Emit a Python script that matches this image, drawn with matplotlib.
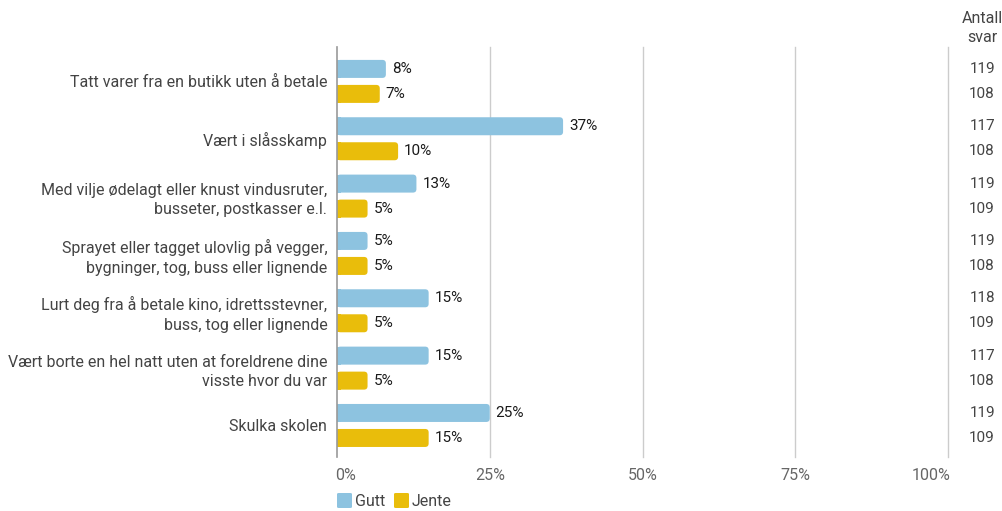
import matplotlib.pyplot as plt
from matplotlib.patches import FancyBboxPatch, Rectangle
from matplotlib.transforms import ScaledTranslation

plt.rcParams['font.family'] = ['Roboto', 'DejaVu Sans']

categories = [
    "Tatt varer fra en butikk uten å betale",
    "Vært i slåsskamp",
    "Med vilje ødelagt eller knust vindusruter,\nbusseter, postkasser e.l.",
    "Sprayet eller tagget ulovlig på vegger,\nbygninger, tog, buss eller lignende",
    "Lurt deg fra å betale kino, idrettsstevner,\nbuss, tog eller lignende",
    "Vært borte en hel natt uten at foreldrene dine\nvisste hvor du var",
    "Skulka skolen",
]
gutt = [8, 37, 13, 5, 15, 15, 25]
jente = [7, 10, 5, 5, 5, 5, 15]
n_gutt = [119, 117, 119, 119, 118, 117, 119]
n_jente = [108, 108, 109, 108, 109, 108, 109]
series_names = ["Gutt", "Jente"]
xticks = [0, 25, 50, 75, 100]

BLUE = "#8DC3E0"
YELLOW = "#E9BD0B"

W, H = 1003, 511
fig = plt.figure(figsize=(W / 100, H / 100), dpi=100)
ax_l, ax_r, ax_t, ax_b = 337, 948, 47, 457
ax = fig.add_axes([ax_l / W, 1 - ax_b / H, (ax_r - ax_l) / W, (ax_b - ax_t) / H])
ax.set_xlim(0, 100)
ax.set_ylim(6.55, -0.6)

px_x = (ax_r - ax_l) / 100.0
px_y = (ax_b - ax_t) / (6.55 + 0.6)
bar_h = 18 / px_y
off = 12.5 / px_y
rad_x = 3.5 / px_x
aspect = (3.5 / px_y) / rad_x

for i in range(len(categories)):
    for val, dy, col in ((gutt[i], -off, BLUE), (jente[i], off, YELLOW)):
        y0 = i + dy - bar_h / 2
        p = FancyBboxPatch((0, y0), val, bar_h,
                           boxstyle=f"round,pad=0,rounding_size={rad_x}",
                           mutation_aspect=aspect, fc=col, ec="none", zorder=3)
        ax.add_patch(p)
        ax.add_patch(Rectangle((0, y0), min(val, rad_x), bar_h, fc=col, ec="none", zorder=3))
        ax.text(val + 6 / px_x, i + dy, f"{val}%", va="center", ha="left",
                fontsize=11, color="#1a1a1a", zorder=4)

# gridlines
for xt in xticks[1:]:
    ax.axvline(xt, color="#CCCCCC", lw=1, zorder=1, clip_on=False)
ax.axvline(0, color="#999999", lw=1.2, zorder=5, clip_on=False)

for s in ax.spines.values():
    s.set_visible(False)
ax.set_xticks(xticks)
ax.set_xticklabels([f"{t}%" for t in xticks], fontsize=11.5, color="#666666")
ax.tick_params(axis="x", length=0, pad=8)
xlabels = ax.get_xticklabels()
xlabels[0].set_horizontalalignment("left")
xlabels[0].set_transform(xlabels[0].get_transform() + ScaledTranslation(-2 / 100, 0, fig.dpi_scale_trans))
xlabels[-1].set_horizontalalignment("right")
xlabels[-1].set_transform(xlabels[-1].get_transform() + ScaledTranslation(3 / 100, 0, fig.dpi_scale_trans))
ax.set_yticks(range(len(categories)))
ax.set_yticklabels(categories, fontsize=11.5, color="#444444", linespacing=1.4)
ax.tick_params(axis="y", length=0, pad=7)

# count column
for i in range(len(categories)):
    fy = 1 - (ax_t + (i - off + 0.6) * px_y) / H
    fig.text(995 / W, fy, str(n_gutt[i]), ha="right", va="center", fontsize=11, color="#444444")
    fy = 1 - (ax_t + (i + off + 0.6) * px_y) / H
    fig.text(995 / W, fy, str(n_jente[i]), ha="right", va="center", fontsize=11, color="#444444")
fig.text(982 / W, 1 - 28 / H, "Antall\nsvar", ha="center", va="center", fontsize=11.5,
         color="#444444", linespacing=1.3)

# legend
legend_x = [337, 394]
for name, col, lx in zip(series_names, [BLUE, YELLOW], legend_x):
    fig.patches.append(FancyBboxPatch((lx / W, 1 - 508 / H), 15 / W, 15 / H,
                                      boxstyle="round,pad=0,rounding_size=0.002",
                                      transform=fig.transFigure, fc=col, ec="none"))
    fig.text((lx + 18) / W, 1 - 501 / H, name, ha="left", va="center",
             fontsize=11.5, color="#444444")

fig.savefig("out.png", dpi=100)
